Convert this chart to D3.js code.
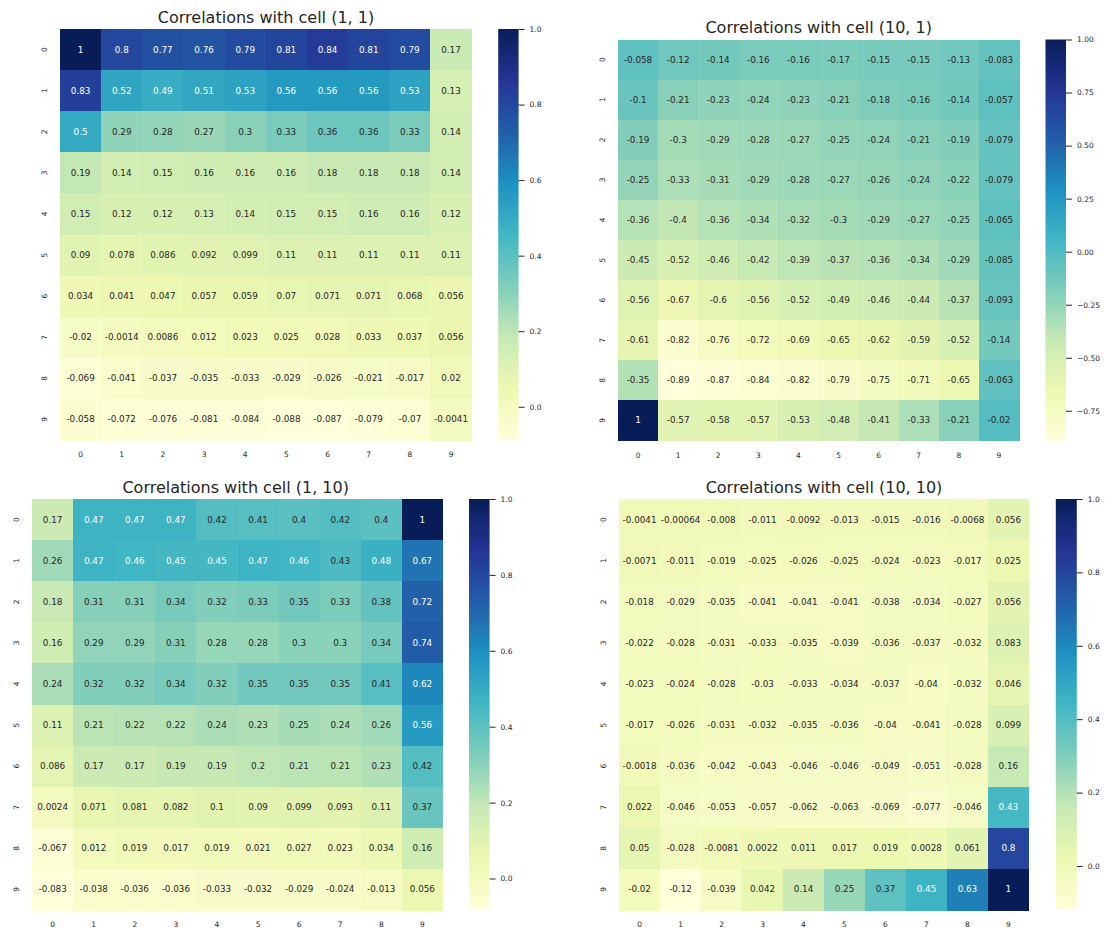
<!DOCTYPE html>
<html>
<head>
<meta charset="utf-8">
<script src="https://cdn.jsdelivr.net/npm/d3@7"></script>
<style>
  html, body { margin: 0; padding: 0; background: #ffffff; }
  svg { display: block; font-family: "DejaVu Sans", sans-serif; }
</style>
</head>
<body>
<svg id="chart" width="1109" height="934"></svg>
<script>
// ---------------- DATA ----------------
const rowLabels = ["0","1","2","3","4","5","6","7","8","9"];
const colLabels = ["0","1","2","3","4","5","6","7","8","9"];

const titles = [
  "Correlations with cell (1, 1)",
  "Correlations with cell (10, 1)",
  "Correlations with cell (1, 10)",
  "Correlations with cell (10, 10)"
];

const corr_1_1 = [
  [1, 0.8, 0.77, 0.76, 0.79, 0.81, 0.84, 0.81, 0.79, 0.17],
  [0.83, 0.52, 0.49, 0.51, 0.53, 0.56, 0.56, 0.56, 0.53, 0.13],
  [0.5, 0.29, 0.28, 0.27, 0.3, 0.33, 0.36, 0.36, 0.33, 0.14],
  [0.19, 0.14, 0.15, 0.16, 0.16, 0.16, 0.18, 0.18, 0.18, 0.14],
  [0.15, 0.12, 0.12, 0.13, 0.14, 0.15, 0.15, 0.16, 0.16, 0.12],
  [0.09, 0.078, 0.086, 0.092, 0.099, 0.11, 0.11, 0.11, 0.11, 0.11],
  [0.034, 0.041, 0.047, 0.057, 0.059, 0.07, 0.071, 0.071, 0.068, 0.056],
  [-0.02, -0.0014, 0.0086, 0.012, 0.023, 0.025, 0.028, 0.033, 0.037, 0.056],
  [-0.069, -0.041, -0.037, -0.035, -0.033, -0.029, -0.026, -0.021, -0.017, 0.02],
  [-0.058, -0.072, -0.076, -0.081, -0.084, -0.088, -0.087, -0.079, -0.07, -0.0041]
];

const corr_10_1 = [
  [-0.058, -0.12, -0.14, -0.16, -0.16, -0.17, -0.15, -0.15, -0.13, -0.083],
  [-0.1, -0.21, -0.23, -0.24, -0.23, -0.21, -0.18, -0.16, -0.14, -0.057],
  [-0.19, -0.3, -0.29, -0.28, -0.27, -0.25, -0.24, -0.21, -0.19, -0.079],
  [-0.25, -0.33, -0.31, -0.29, -0.28, -0.27, -0.26, -0.24, -0.22, -0.079],
  [-0.36, -0.4, -0.36, -0.34, -0.32, -0.3, -0.29, -0.27, -0.25, -0.065],
  [-0.45, -0.52, -0.46, -0.42, -0.39, -0.37, -0.36, -0.34, -0.29, -0.085],
  [-0.56, -0.67, -0.6, -0.56, -0.52, -0.49, -0.46, -0.44, -0.37, -0.093],
  [-0.61, -0.82, -0.76, -0.72, -0.69, -0.65, -0.62, -0.59, -0.52, -0.14],
  [-0.35, -0.89, -0.87, -0.84, -0.82, -0.79, -0.75, -0.71, -0.65, -0.063],
  [1, -0.57, -0.58, -0.57, -0.53, -0.48, -0.41, -0.33, -0.21, -0.02]
];

const corr_1_10 = [
  [0.17, 0.47, 0.47, 0.47, 0.42, 0.41, 0.4, 0.42, 0.4, 1],
  [0.26, 0.47, 0.46, 0.45, 0.45, 0.47, 0.46, 0.43, 0.48, 0.67],
  [0.18, 0.31, 0.31, 0.34, 0.32, 0.33, 0.35, 0.33, 0.38, 0.72],
  [0.16, 0.29, 0.29, 0.31, 0.28, 0.28, 0.3, 0.3, 0.34, 0.74],
  [0.24, 0.32, 0.32, 0.34, 0.32, 0.35, 0.35, 0.35, 0.41, 0.62],
  [0.11, 0.21, 0.22, 0.22, 0.24, 0.23, 0.25, 0.24, 0.26, 0.56],
  [0.086, 0.17, 0.17, 0.19, 0.19, 0.2, 0.21, 0.21, 0.23, 0.42],
  [0.0024, 0.071, 0.081, 0.082, 0.1, 0.09, 0.099, 0.093, 0.11, 0.37],
  [-0.067, 0.012, 0.019, 0.017, 0.019, 0.021, 0.027, 0.023, 0.034, 0.16],
  [-0.083, -0.038, -0.036, -0.036, -0.033, -0.032, -0.029, -0.024, -0.013, 0.056]
];

const corr_10_10 = [
  [-0.0041, -0.00064, -0.008, -0.011, -0.0092, -0.013, -0.015, -0.016, -0.0068, 0.056],
  [-0.0071, -0.011, -0.019, -0.025, -0.026, -0.025, -0.024, -0.023, -0.017, 0.025],
  [-0.018, -0.029, -0.035, -0.041, -0.041, -0.041, -0.038, -0.034, -0.027, 0.056],
  [-0.022, -0.028, -0.031, -0.033, -0.035, -0.039, -0.036, -0.037, -0.032, 0.083],
  [-0.023, -0.024, -0.028, -0.03, -0.033, -0.034, -0.037, -0.04, -0.032, 0.046],
  [-0.017, -0.026, -0.031, -0.032, -0.035, -0.036, -0.04, -0.041, -0.028, 0.099],
  [-0.0018, -0.036, -0.042, -0.043, -0.046, -0.046, -0.049, -0.051, -0.028, 0.16],
  [0.022, -0.046, -0.053, -0.057, -0.062, -0.063, -0.069, -0.077, -0.046, 0.43],
  [0.05, -0.028, -0.0081, 0.0022, 0.011, 0.017, 0.019, 0.0028, 0.061, 0.8],
  [-0.02, -0.12, -0.039, 0.042, 0.14, 0.25, 0.37, 0.45, 0.63, 1]
];

const ticks_1_1   = [0.0, 0.2, 0.4, 0.6, 0.8, 1.0];
const ticks_10_1  = [-0.75, -0.50, -0.25, 0.00, 0.25, 0.50, 0.75, 1.00];
const ticks_1_10  = [0.0, 0.2, 0.4, 0.6, 0.8, 1.0];
const ticks_10_10 = [0.0, 0.2, 0.4, 0.6, 0.8, 1.0];
const tickFormats = [".1f", ".2f", ".1f", ".1f"];

// YlGnBu (ColorBrewer 9-class, as used by matplotlib)
const ylGnBu = ["#ffffd9","#edf8b1","#c7e9b4","#7fcdbb","#41b6c4","#1d91c0","#225ea8","#253494","#081d58"];

// ---------------- LAYOUT ----------------
const layout = [
  { hx0: 60.0,  hx1: 471.6,  hy0: 29.0,  hy1: 440.0, cbx0: 498.2,  cbx1: 518.6,  tx: 266.0, ty: 22.5 },
  { hx0: 618.0, hx1: 1019.0, hy0: 39.5,  hy1: 440.5, cbx0: 1045.5, cbx1: 1066.0, tx: 818.7, ty: 32.5 },
  { hx0: 32.1,  hx1: 442.9,  hy0: 499.0, hy1: 910.0, cbx0: 469.0,  cbx1: 489.6,  tx: 235.7, ty: 492.5 },
  { hx0: 619.1, hx1: 1028.9, hy0: 499.0, hy1: 910.0, cbx0: 1055.8, cbx1: 1076.8, tx: 824.0, ty: 492.5 }
];

const datasets = [corr_1_1, corr_10_1, corr_1_10, corr_10_10];
const tickSets = [ticks_1_1, ticks_10_1, ticks_1_10, ticks_10_10];

const textDark = "#262626";
const annFmt = d3.formatLocale({decimal: ".", thousands: ",", grouping: [3], currency: ["", ""], minus: "-"}).format(".2~g");

const cmapBase = d3.scaleLinear()
  .domain(d3.range(ylGnBu.length).map(i => i / (ylGnBu.length - 1)))
  .range(ylGnBu)
  .interpolate(d3.interpolateRgb)
  .clamp(true);

function relLum(colorStr) {
  const c = d3.rgb(colorStr);
  const f = v => { v = v / 255; return v <= 0.03928 ? v / 12.92 : Math.pow((v + 0.055) / 1.055, 2.4); };
  return 0.2126 * f(c.r) + 0.7152 * f(c.g) + 0.0722 * f(c.b);
}

const svg = d3.select("#chart");
const defs = svg.append("defs");

datasets.forEach((data, p) => {
  const L = layout[p];
  const flat = data.flat();
  const vmin = d3.min(flat), vmax = d3.max(flat);
  const norm = d3.scaleLinear().domain([vmin, vmax]).range([0, 1]);
  const color = v => cmapBase(norm(v));

  const x = d3.scaleBand().domain(colLabels).range([L.hx0, L.hx1]).paddingInner(0).paddingOuter(0);
  const y = d3.scaleBand().domain(rowLabels).range([L.hy0, L.hy1]).paddingInner(0).paddingOuter(0);

  const g = svg.append("g");

  // cells
  const cells = [];
  data.forEach((row, i) => row.forEach((v, j) => cells.push({ r: rowLabels[i], c: colLabels[j], v })));

  g.selectAll("rect.cell").data(cells).join("rect")
    .attr("class", "cell")
    .attr("x", d => x(d.c))
    .attr("y", d => y(d.r))
    .attr("width", x.bandwidth() + 0.5)
    .attr("height", y.bandwidth() + 0.5)
    .attr("fill", d => color(d.v))
    .attr("shape-rendering", "crispEdges");

  // annotations
  g.selectAll("text.ann").data(cells).join("text")
    .attr("class", "ann")
    .attr("x", d => x(d.c) + x.bandwidth() / 2)
    .attr("y", d => y(d.r) + y.bandwidth() / 2)
    .attr("text-anchor", "middle")
    .attr("dominant-baseline", "central")
    .attr("font-size", "8.8px")
    .attr("fill", d => relLum(color(d.v)) > 0.408 ? textDark : "#ffffff")
    .text(d => annFmt(d.v));

  // x axis
  const xAxis = g.append("g")
    .attr("transform", `translate(0,${L.hy1})`)
    .call(d3.axisBottom(x).tickSize(0).tickPadding(12));
  xAxis.select(".domain").remove();
  xAxis.selectAll("text").attr("font-size", "7.5px").attr("fill", textDark).attr("font-family", "DejaVu Sans");

  // y axis (rotated labels)
  const yAxis = g.append("g")
    .attr("transform", `translate(${L.hx0},0)`)
    .call(d3.axisLeft(y).tickSize(0).tickPadding(0));
  yAxis.select(".domain").remove();
  yAxis.selectAll("text")
    .attr("x", null).attr("dy", null)
    .attr("transform", "translate(-15.5,0) rotate(-90)")
    .attr("text-anchor", "middle")
    .attr("dominant-baseline", "central")
    .attr("font-size", "7.5px").attr("fill", textDark).attr("font-family", "DejaVu Sans");

  // title
  g.append("text")
    .attr("x", L.tx).attr("y", L.ty)
    .attr("text-anchor", "middle")
    .attr("font-size", "16px")
    .attr("fill", textDark)
    .text(titles[p]);

  // colorbar
  const gradId = "grad" + p;
  const grad = defs.append("linearGradient").attr("id", gradId)
    .attr("x1", "0").attr("y1", "1").attr("x2", "0").attr("y2", "0");
  d3.range(0, 1.0001, 1 / 64).forEach(t => {
    grad.append("stop").attr("offset", t).attr("stop-color", cmapBase(t));
  });
  g.append("rect")
    .attr("x", L.cbx0).attr("y", L.hy0)
    .attr("width", L.cbx1 - L.cbx0).attr("height", L.hy1 - L.hy0)
    .attr("fill", `url(#${gradId})`);

  const cbScale = d3.scaleLinear().domain([vmin, vmax]).range([L.hy1, L.hy0]);
  const cbAxis = g.append("g")
    .attr("transform", `translate(${L.cbx1},0)`)
    .call(d3.axisRight(cbScale).tickValues(tickSets[p]).tickSize(6).tickPadding(5).tickFormat(d3.format(tickFormats[p])));
  cbAxis.select(".domain").remove();
  cbAxis.selectAll("line").attr("stroke", textDark).attr("stroke-width", 1);
  cbAxis.selectAll("text").attr("font-size", "7.5px").attr("fill", textDark).attr("font-family", "DejaVu Sans");
});
</script>
</body>
</html>
